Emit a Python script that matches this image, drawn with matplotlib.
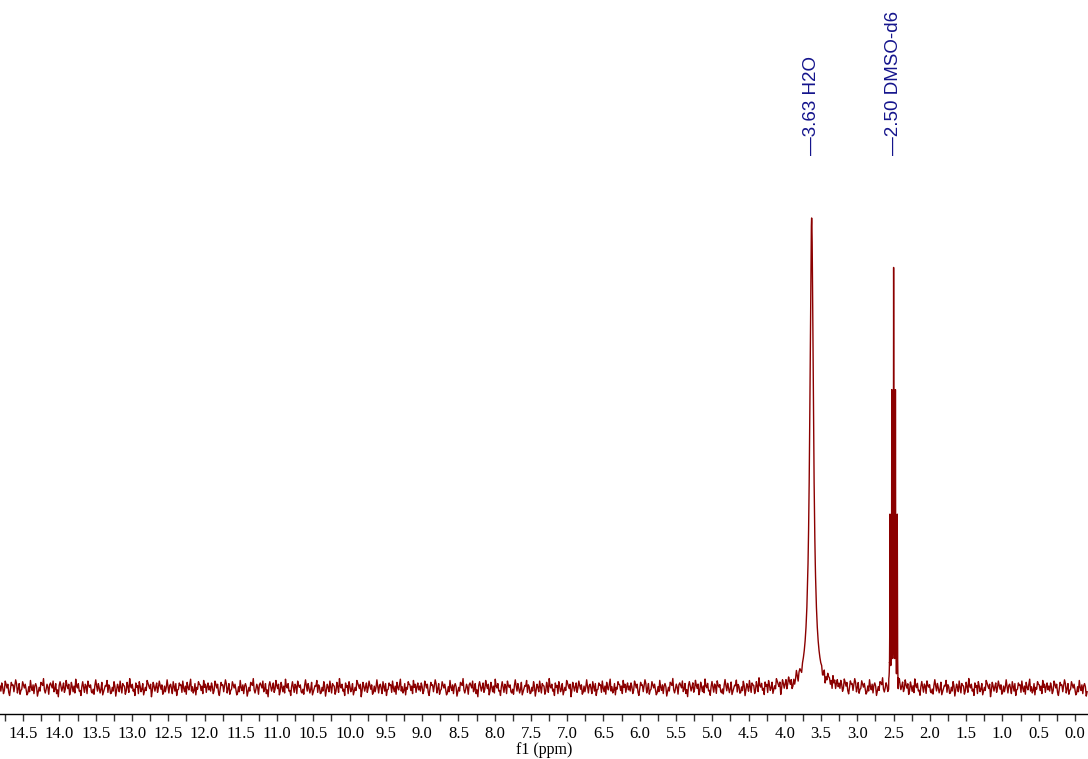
import numpy as np
import matplotlib
matplotlib.use("Agg")
from matplotlib import pyplot as plt
from matplotlib.ticker import MultipleLocator
from matplotlib.transforms import blended_transform_factory

# peaks (ppm, height relative to H2O, half width at half height in ppm)
peak_ppm = [3.63, 2.55, 2.525, 2.50, 2.475, 2.45]
peak_height = [1.0, 0.36, 0.62, 0.88, 0.62, 0.36]
peak_hwhm = [0.03, 0.0025, 0.0025, 0.0025, 0.0025, 0.0025]

# labelled peaks
label_ppm = [3.63, 2.50]
label_text = ["\u20143.63 H2O", "\u20142.50 DMSO-d6"]

# axis tick labels
tick_values = [14.5, 14.0, 13.5, 13.0, 12.5, 12.0, 11.5, 11.0, 10.5, 10.0, 9.5, 9.0, 8.5, 8.0,
               7.5, 7.0, 6.5, 6.0, 5.5, 5.0, 4.5, 4.0, 3.5, 3.0, 2.5, 2.0, 1.5, 1.0, 0.5, 0.0]

# baseline noise (x 0.001 of H2O height)
noise = [3, -5, 8, 2, -9, -4, 11, 6, 0, 6, -7, -12, -2, 9, 4, 5, -6, 3, 13, 7,
         -8, -1, 7, -10, -4, -2, 10, 5, 0, 6, -3, -11, -8, 2, -6, 12, 1, -4, 5, -9,
         3, 7, 2, -13, -6, 1, -5, 9, 7, 4, 15, -3, -8, -2, 6, 1, -10, 5, 8, 4,
         0, 11, -6, -2, 7, -9, -3, -14, 4, 10, 3, -5, 1, 8, -7, -2, 12, 4, -1, 6,
         -11, -5, 9, 2, -6, 3, -8, 14, 3, 0, 7, -5, -4, -12, 2, 10, 1, -7, 6, 3,
         -9, 11, 4, 1, 5, -6, -8, -2, -10, 4, 13, 3, -5, 7, 0, -8, -2, 9, -11, -6,
         -1, 4, 3, 12, -7, 5, 2, -9, -8, 1, -5, 10, 3, -13, -4, 6, 1, -6, 11, 2,
         -8, 7, 4, 3, -10, -5, 9, 2, -7, 15, 3, 0, 6, -5, -2, -12, 8, 1, 4, -9,
         10, 3, -6, -2, 7, -11, -5, 1, -4, 12, 8, 3, -1, 6, -14, -4, 9, 3, -5, 2,
         8, -7, 0, 11, 4, -2, 5, -10, -7, 3, -6, 1, 13, 3, -8, 4, 6, -1, -9, 10,
         2, -5, 7, -12, -3, -2, 8, 4, 5, -7, 11, 0, -6, 3, -10, 9, 1, -3, 6, 14,
         -5, 2, -8, -4, 7, -11, 1, -2, 10, 6, 5, -4, 3, -9, 12, 1, 6, -7, 2, 8, -3]

x_left, x_right = 14.82, -0.18
step = 0.012

# coarse grid for the baseline, fine grids to resolve the peaks
coarse = np.arange(x_left, x_right, -step)
fine_dmso = np.arange(2.58, 2.42, -0.0005)
fine_h2o = np.arange(3.68, 3.58, -0.001)
keep = ~(((coarse < 2.58) & (coarse > 2.42)) | ((coarse < 3.68) & (coarse > 3.58)))
x = np.concatenate([coarse[keep], fine_dmso, fine_h2o])
x = np.sort(x)[::-1]

signal = np.zeros_like(x)
for p, h, w in zip(peak_ppm, peak_height, peak_hwhm):
    signal += h / (1 + ((x - p) / w) ** 2)

# each point takes the noise sample of the coarse slot it falls in; none on the peaks
tiled = np.resize(np.array(noise) / 750.0, len(coarse) + 1)
idx = np.floor((x_left - x) / step + 1e-9).astype(int)
y = signal + np.where(signal > 0.05, 0.0, tiled[idx])

fig = plt.figure(figsize=(10.88, 7.59), dpi=100)
ax = fig.add_axes([0, 45 / 759, 1, 714 / 759])
ax.plot(x, y, color="#8b0000", lw=1.0)
ax.set_xlim(x_left, x_right)
ax.set_ylim(-26 / 470, 688 / 470)

for s in ["left", "right", "top"]:
    ax.spines[s].set_visible(False)
ax.spines["bottom"].set_linewidth(1.0)
ax.set_yticks([])
ax.xaxis.set_major_locator(MultipleLocator(0.5))
ax.xaxis.set_minor_locator(MultipleLocator(0.25))
ax.tick_params(axis="x", which="both", length=5, width=1, color="#333333")
ax.set_xticklabels([])

tr = blended_transform_factory(ax.transData, fig.transFigure)
for t in tick_values:
    ax.text(t, 1 - 734 / 759, "%.1f" % t, transform=tr, ha="center", va="center",
            fontsize=12, family="Liberation Serif")
ax.text(0.5, 1 - 750 / 759, "f1 (ppm)", transform=fig.transFigure, ha="center", va="center",
        fontsize=11.5, family="Liberation Serif")

for p, lab in zip(label_ppm, label_text):
    ax.text(p, 1 - 155 / 759, lab, transform=tr, rotation=90, ha="center", va="bottom",
            fontsize=13.5, color="#14148c", family="Liberation Sans")

fig.savefig("out.png", dpi=100)
